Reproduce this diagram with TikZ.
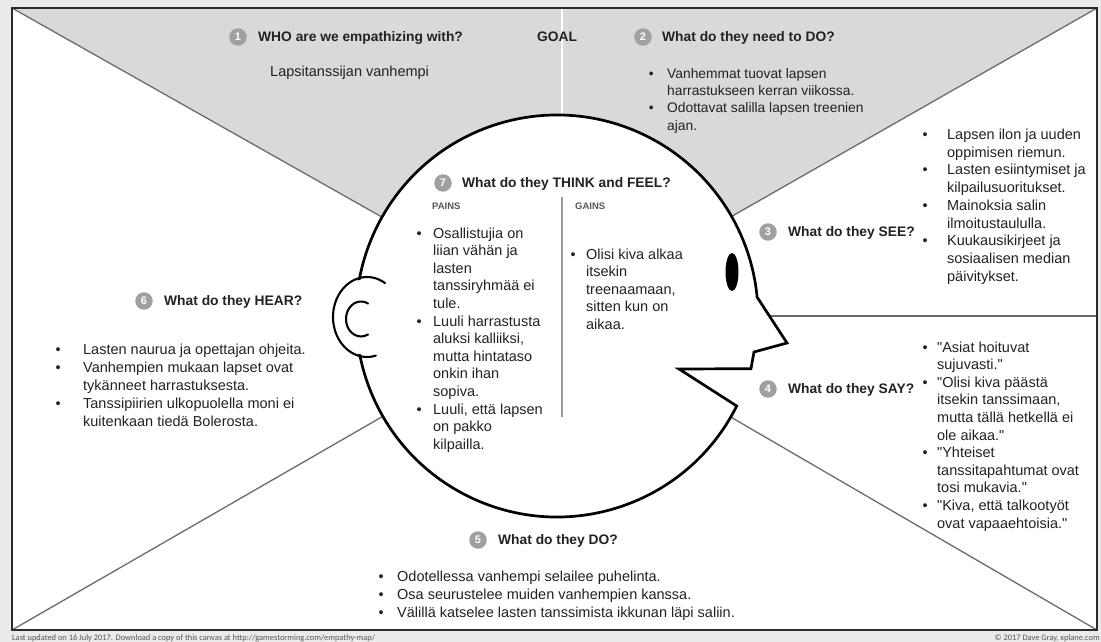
\documentclass[tikz,border=0pt]{standalone}
\usepackage{fontspec}
\setmainfont{Liberation Sans}[Ligatures=TeXOff]
\newfontfamily\footfont{Carlito}
\usetikzlibrary{calc}
\definecolor{bgc}{HTML}{EBEBEB}
\definecolor{topgray}{HTML}{D9D9D9}
\definecolor{linec}{HTML}{6B6B6B}
\definecolor{framec}{HTML}{2B2B2B}
\definecolor{numc}{HTML}{A0A0A0}
\definecolor{txt}{HTML}{222222}
\definecolor{subc}{HTML}{555555}
\definecolor{footc}{HTML}{555555}
\definecolor{midline}{HTML}{9A9A9A}
\begin{document}
\begin{tikzpicture}[x=1pt,y=-1pt,
  divline/.style={draw=linec, line width=1.3pt},
  headline/.style={draw=black, line width=2.7pt, line join=miter, fill=white},
  earline/.style={draw=black, line width=2.1pt, line cap=round},
  num/.style={circle, fill=numc, text=white, minimum size=17.5pt, inner sep=0pt, font=\fontsize{11}{11}\selectfont\bfseries},
  heading/.style={anchor=base west, inner sep=0pt, text=txt, font=\fontsize{13.8}{16}\selectfont\bfseries},
  body/.style={anchor=base west, inner sep=0pt, text=txt, font=\fontsize{14.5}{17.6}\selectfont},
  sub/.style={anchor=base west, inner sep=0pt, text=subc, font=\fontsize{9.5}{10}\selectfont\bfseries},
  foot/.style={inner sep=0pt, text=footc, font=\footfont\fontsize{8.4}{9}\selectfont},
]
\useasboundingbox (0,0) rectangle (1101,642);
\fill[bgc] (0,0) rectangle (1101,642);
% key points
\coordinate (C) at (557,316);
\coordinate (TL) at (12,8);
\coordinate (TR) at (1097,8);
\coordinate (BL) at (12,630);
\coordinate (BR) at (1097,630);
\coordinate (RM) at (1097,316);
\coordinate (G1) at (562,8);
\coordinate (G2) at (562,120);
\fill[white] (TL) rectangle (BR);
\fill[topgray] (TL) -- (C) -- (TR) -- cycle;
% dividers
\draw[divline] (TL) -- (C);
\draw[divline] (TR) -- (C);
\draw[divline] (BL) -- (C);
\draw[divline] (BR) -- (C);
\draw[divline] (C) -- (RM);
\draw[white, line width=1.5pt] (G1) -- (G2);
% head
\coordinate (M) at (679,369);
\coordinate (N2) at (787,343);
\coordinate (N3) at (754,352);
\filldraw[headline] ($(C)+(15.2:201)$) -- (M) -- ($(C)+(26.6:201)$)
  arc[start angle=26.6, end angle=354.6, radius=201] -- (N2) -- (N3) -- cycle;
% ear
\coordinate (E) at (367,317);
\coordinate (EI) at (361,319);
\fill[white] (E) ellipse[x radius=32, y radius=38];
\draw[earline] ($(E)+(-58:34 and 40)$) arc[start angle=-58, end angle=-285, x radius=34, y radius=40];
\draw[earline] ($(EI)+(-62:15 and 17.5)$) arc[start angle=-62, end angle=-298, x radius=15, y radius=17.5];
% eye
\fill[black] (732,272) ellipse[x radius=6.5, y radius=19];
% think divider
\coordinate (D1) at (562,197);
\coordinate (D2) at (562,417);
\draw[midline, line width=1.2pt] (D1) -- (D2);
% frame
\draw[framec, line width=2.2pt] (TL) rectangle (BR);

% numbers and headings
\node[num] (n1) at (238,37) {1};
\node[heading] (h1) at (258,41.8) {WHO are we empathizing with?};
\node[heading] (goal) at (537,41.8) {GOAL};
\node[num] (n2) at (643,37) {2};
\node[heading] (h2) at (662,41.8) {What do they need to DO?};
\node[num] (n3) at (768,232) {3};
\node[heading] (h3) at (788,236.8) {What do they SEE?};
\node[num] (n4) at (768,389) {4};
\node[heading] (h4) at (788,393.8) {What do they SAY?};
\node[num] (n5) at (478,540) {5};
\node[heading] (h5) at (498,544.8) {What do they DO?};
\node[num] (n6) at (144,301) {6};
\node[heading] (h6) at (164,305.8) {What do they HEAR?};
\node[num] (n7) at (443,183) {7};
\node[heading] (h7) at (462,187.8) {What do they THINK and FEEL?};
\node[sub] (pains) at (432,209) {PAINS};
\node[sub] (gains) at (575,209) {GAINS};

% texts
\node[body] (who) at (270,77) {Lapsitanssijan vanhempi};
\node[body, font=\fontsize{13.8}{17.5}\selectfont] (needdo) at (648.6,78) {\begin{tabular}[t]{@{}l@{\hspace{13.6pt}}l@{}}
• & Vanhemmat tuovat lapsen\\
  & harrastukseen kerran viikossa.\\
• & Odottavat salilla lapsen treenien\\
  & ajan.
\end{tabular}};
\node[body, font=\fontsize{14.5}{17.7}\selectfont] (see) at (922.5,139.5) {\begin{tabular}[t]{@{}l@{\hspace{19.4pt}}l@{}}
• & Lapsen ilon ja uuden\\
  & oppimisen riemun.\\
• & Lasten esiintymiset ja\\
  & kilpailusuoritukset.\\
• & Mainoksia salin\\
  & ilmoitustaululla.\\
• & Kuukausikirjeet ja\\
  & sosiaalisen median\\
  & päivitykset.
\end{tabular}};
\node[body, font=\fontsize{14.5}{17.6}\selectfont] (say) at (922.5,352) {\begin{tabular}[t]{@{}l@{\hspace{9.4pt}}l@{}}
• & "Asiat hoituvat\\
  & sujuvasti."\\
• & "Olisi kiva päästä\\
  & itsekin tanssimaan,\\
  & mutta tällä hetkellä ei\\
  & ole aikaa."\\
• & "Yhteiset\\
  & tanssitapahtumat ovat\\
  & tosi mukavia."\\
• & "Kiva, että talkootyöt\\
  & ovat vapaaehtoisia."
\end{tabular}};
\node[body, font=\fontsize{14.5}{18}\selectfont] (hear) at (55.5,354) {\begin{tabular}[t]{@{}l@{\hspace{22.4pt}}l@{}}
• & Lasten naurua ja opettajan ohjeita.\\
• & Vanhempien mukaan lapset ovat\\
  & tykänneet harrastuksesta.\\
• & Tanssipiirien ulkopuolella moni ei\\
  & kuitenkaan tiedä Bolerosta.
\end{tabular}};
\node[body, font=\fontsize{14.5}{17.6}\selectfont] (painsl) at (416.5,238) {\begin{tabular}[t]{@{}l@{\hspace{11.4pt}}l@{}}
• & Osallistujia on\\
  & liian vähän ja\\
  & lasten\\
  & tanssiryhmää ei\\
  & tule.\\
• & Luuli harrastusta\\
  & aluksi kalliiksi,\\
  & mutta hintataso\\
  & onkin ihan\\
  & sopiva.\\
• & Luuli, että lapsen\\
  & on pakko\\
  & kilpailla.
\end{tabular}};
\node[body, font=\fontsize{14.5}{17.5}\selectfont] (gainsl) at (570.5,259) {\begin{tabular}[t]{@{}l@{\hspace{10.4pt}}l@{}}
• & Olisi kiva alkaa\\
  & itsekin\\
  & treenaamaan,\\
  & sitten kun on\\
  & aikaa.
\end{tabular}};
\node[body, font=\fontsize{14.5}{18}\selectfont] (dol) at (378.5,581) {\begin{tabular}[t]{@{}l@{\hspace{13.4pt}}l@{}}
• & Odotellessa vanhempi selailee puhelinta.\\
• & Osa seurustelee muiden vanhempien kanssa.\\
• & Välillä katselee lasten tanssimista ikkunan läpi saliin.
\end{tabular}};
% footer
\node[foot, anchor=base west] (footl) at (12,640) {Last updated on 16 July 2017. Download a copy of this canvas at http://gamestorming.com/empathy-map/};
\node[foot, anchor=base east] (footr) at (1100,640) {© 2017 Dave Gray, xplane.com};
\end{tikzpicture}
\end{document}
